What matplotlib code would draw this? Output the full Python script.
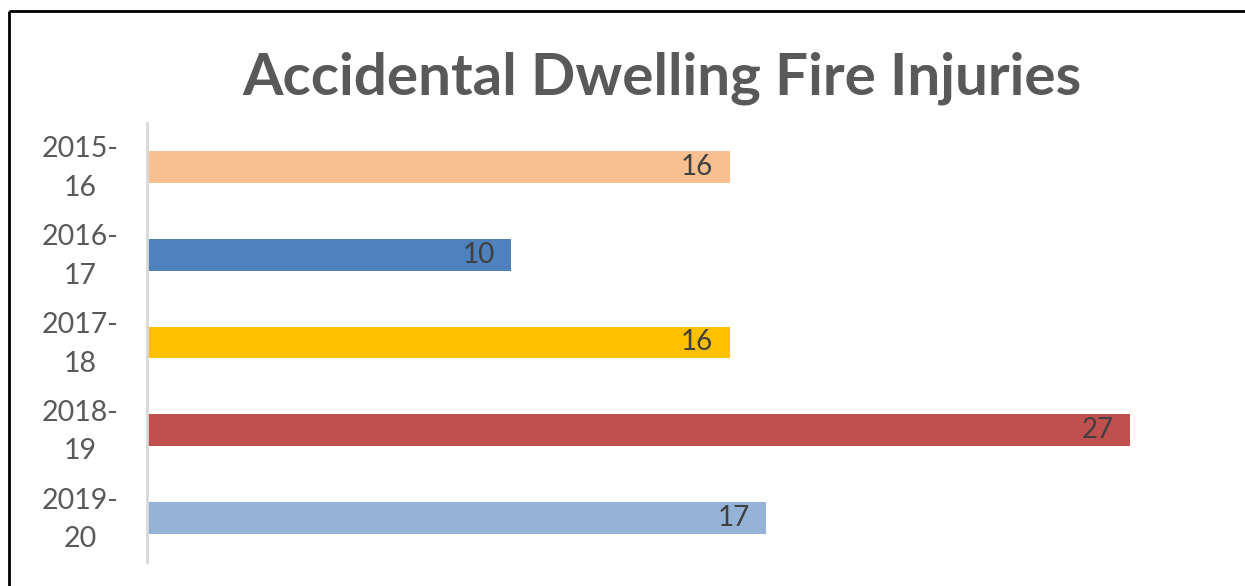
import matplotlib.pyplot as plt
from matplotlib.lines import Line2D
from matplotlib.transforms import ScaledTranslation

# --- данные ---
seasons = ["2015-\n16", "2016-\n17", "2017-\n18", "2018-\n19", "2019-\n20"]
injuries = [16, 10, 16, 27, 17]
bar_colors = ["#F8C091", "#4F81BD", "#FFC000", "#C0504D", "#95B3D7"]

W, H = 1245, 586
fig = plt.figure(figsize=(W / 100, H / 100), dpi=100)

# рамка вокруг диаграммы: видны только левый и верхний края
fx, fy = 9 / W, 1 - 11 / H
fig.add_artist(Line2D([fx, fx], [0, fy], transform=fig.transFigure,
                      color="black", linewidth=2, solid_capstyle="butt"))
fig.add_artist(Line2D([fx, 1.0], [fy, fy], transform=fig.transFigure,
                      color="black", linewidth=2, solid_capstyle="butt"))

ax = fig.add_axes([147 / W, 24 / H, 1038 / W, 439 / H])
y = range(len(seasons))
ax.barh(y, injuries, height=0.364, color=bar_colors)
ax.set_xlim(0, 28.5)
ax.set_ylim(len(seasons) - 0.5, -0.5)

for s in ["top", "right", "bottom"]:
    ax.spines[s].set_visible(False)
ax.spines["left"].set_color("#D9D9D9")
ax.spines["left"].set_linewidth(2)
ax.set_xticks([])
ax.set_yticks(list(y))
ax.set_yticklabels(seasons, fontsize=20.5, color="#595959", family="Lato",
                   ha="center", multialignment="center", linespacing=1.6)
ax.tick_params(axis="y", length=0, pad=48)
shift = ScaledTranslation(0, 5 / 72, fig.dpi_scale_trans)
for lab in ax.get_yticklabels():
    lab.set_transform(lab.get_transform() + shift)

for i, v in enumerate(injuries):
    ax.text(v - 0.45, i, str(v), ha="right", va="center",
            fontsize=20, color="#404040", family="Lato")

fig.text(662 / W, 1 - 78 / H, "Accidental Dwelling Fire Injuries",
         ha="center", va="center", fontsize=42, fontweight="bold",
         color="#595959", family="Lato")

fig.savefig("out.png", dpi=100, facecolor="white")
